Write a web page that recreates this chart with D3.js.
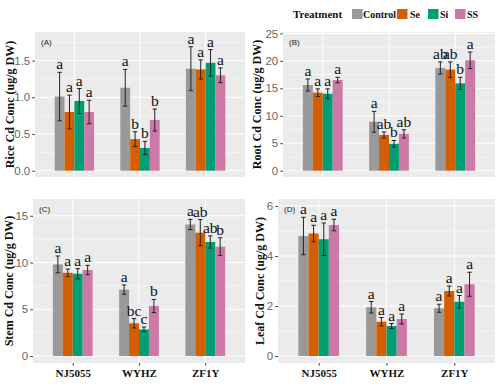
<!DOCTYPE html>
<html><head><meta charset="utf-8">
<script src="https://cdn.jsdelivr.net/npm/d3@7"></script>
<style>body{margin:0;background:#fff}svg{display:block}</style>
</head><body>
<svg id="chart" width="500" height="390"></svg>
<script>
// ---------------- DATA ----------------
const categories = ["NJ5055", "WYHZ", "ZF1Y"];
const treatments = ["Control", "Se", "Si", "SS"];
const colors = ["#999999", "#D55E00", "#009E73", "#CC79A7"];

// values ordered: category, then treatment (Control, Se, Si, SS)
const riceMean = [1.01, 0.80, 0.95, 0.80,  1.13, 0.43, 0.31, 0.69,  1.39, 1.38, 1.47, 1.30];
const riceErr  = [0.33, 0.23, 0.17, 0.16,  0.25, 0.10, 0.09, 0.15,  0.30, 0.13, 0.18, 0.10];
const riceLetters = ["a","a","a","a", "a","b","b","b", "a","a","a","a"];

const rootMean = [15.6, 14.2, 14.0, 16.5,  8.9, 6.5, 4.9, 6.7,  18.7, 18.4, 15.9, 20.1];
const rootErr  = [1.1, 0.7, 0.9, 0.5,  1.9, 0.55, 0.6, 0.75,  1.1, 1.4, 1.1, 1.5];
const rootLetters = ["a","a","a","a", "a","ab","b","ab", "ab","ab","b","a"];

const stemMean = [9.8, 8.9, 8.8, 9.2,  7.1, 3.5, 2.85, 5.35,  14.07, 13.2, 12.2, 11.7];
const stemErr  = [0.9, 0.4, 0.55, 0.5,  0.5, 0.5, 0.25, 0.7,  0.55, 1.4, 0.65, 0.95];
const stemLetters = ["a","a","a","a", "a","bc","c","b", "a","ab","ab","b"];

const leafMean = [4.8, 4.9, 4.67, 5.24,  1.95, 1.37, 1.2, 1.48,  1.91, 2.6, 2.17, 2.87];
const leafErr  = [0.75, 0.33, 0.65, 0.23,  0.23, 0.17, 0.1, 0.2,  0.16, 0.2, 0.25, 0.48];
const leafLetters = ["a","a","a","a", "a","a","a","a", "a","a","a","a"];

const riceTicks = [0, 0.5, 1.0, 1.5];
const rootTicks = [0, 5, 10, 15, 20, 25];
const stemTicks = [0, 5, 10, 15];
const leafTicks = [0, 2, 4, 6];

// ---------------- LAYOUT ----------------
const panels = [
  {tag:"(A)", title:"Rice Cd Conc (ug/g DW)", mean:riceMean, err:riceErr, letters:riceLetters, ticks:riceTicks, fmt:d3.format(".1f"),
   l:35, r:245, t:32, b:177, dom:[-0.086, 1.89], tx:10, xlab:false},
  {tag:"(B)", title:"Root Cd Conc (ug/g DW)", mean:rootMean, err:rootErr, letters:rootLetters, ticks:rootTicks, fmt:d3.format("d"),
   l:283, r:495, t:32, b:177, dom:[-1.15, 25.25], tx:257, xlab:false},
  {tag:"(C)", title:"Stem Cd Conc (ug/g DW)", mean:stemMean, err:stemErr, letters:stemLetters, ticks:stemTicks, fmt:d3.format("d"),
   l:33, r:245, t:199, b:363, dom:[-0.75, 16.8], tx:9, xlab:true},
  {tag:"(D)", title:"Leaf Cd Conc (ug/g DW)", mean:leafMean, err:leafErr, letters:leafLetters, ticks:leafTicks, fmt:d3.format("d"),
   l:278, r:495, t:199, b:363, dom:[-0.28, 6.28], tx:260, xlab:true}
];

const svg = d3.select("#chart");
const serif = "'Liberation Serif','Times New Roman',serif";
const sans = "'Liberation Sans',Arial,sans-serif";

panels.forEach(p => {
  const g = svg.append("g");
  const y = d3.scaleLinear().domain(p.dom).range([p.b, p.t]);
  const x = d3.scalePoint().domain(categories).range([p.l, p.r]).padding(0.6);
  const step = x.step();
  const xt = d3.scaleBand().domain(treatments).range([-0.3*step, 0.3*step]).padding(0);

  g.append("rect").attr("x", p.l).attr("y", p.t).attr("width", p.r - p.l).attr("height", p.b - p.t).attr("fill", "#EBEBEB");

  const minors = [];
  for (let i = 0; i < p.ticks.length - 1; i++) minors.push((p.ticks[i] + p.ticks[i+1]) / 2);
  const dt = p.ticks[1] - p.ticks[0];
  const extra = p.ticks[p.ticks.length-1] + dt/2;
  if (extra < p.dom[1]) minors.push(extra);
  g.selectAll(".minor").data(minors).join("line")
    .attr("x1", p.l).attr("x2", p.r).attr("y1", d => y(d)).attr("y2", d => y(d))
    .attr("stroke", "#fff").attr("stroke-width", 0.5);
  g.selectAll(".major").data(p.ticks).join("line")
    .attr("x1", p.l).attr("x2", p.r).attr("y1", d => y(d)).attr("y2", d => y(d))
    .attr("stroke", "#fff").attr("stroke-width", 1);
  g.selectAll(".vmajor").data(categories).join("line")
    .attr("x1", d => x(d)).attr("x2", d => x(d)).attr("y1", p.t).attr("y2", p.b)
    .attr("stroke", "#fff").attr("stroke-width", 1);

  const rows = [];
  categories.forEach((c, ci) => treatments.forEach((tr, ti) => {
    const k = ci * treatments.length + ti;
    rows.push({c, tr, ti, m: p.mean[k], e: p.err[k], lab: p.letters[k]});
  }));
  g.selectAll(".bar").data(rows).join("rect")
    .attr("x", d => x(d.c) + xt(d.tr))
    .attr("width", xt.bandwidth())
    .attr("y", d => y(d.m))
    .attr("height", d => y(0) - y(d.m))
    .attr("fill", d => colors[d.ti]);

  const cap = 2.2;
  const eb = g.selectAll(".eb").data(rows).join("g")
    .attr("transform", d => `translate(${x(d.c) + xt(d.tr) + xt.bandwidth()/2},0)`);
  eb.append("line").attr("x1", 0).attr("x2", 0)
    .attr("y1", d => y(d.m + d.e)).attr("y2", d => y(d.m - d.e))
    .attr("stroke", "#222").attr("stroke-width", 1);
  eb.append("line").attr("x1", -cap).attr("x2", cap)
    .attr("y1", d => y(d.m + d.e)).attr("y2", d => y(d.m + d.e))
    .attr("stroke", "#222").attr("stroke-width", 1);
  eb.append("line").attr("x1", -cap).attr("x2", cap)
    .attr("y1", d => y(d.m - d.e)).attr("y2", d => y(d.m - d.e))
    .attr("stroke", "#222").attr("stroke-width", 1);

  g.selectAll(".let").data(rows).join("text")
    .attr("x", d => x(d.c) + xt(d.tr) + xt.bandwidth()/2)
    .attr("y", d => y(d.m + d.e) - 3)
    .attr("text-anchor", "middle")
    .attr("font-family", serif).attr("font-size", 15.5).attr("fill", "#111")
    .text(d => d.lab);

  g.append("text").attr("x", p.l + 6).attr("y", p.t + 13)
    .attr("font-family", sans).attr("font-size", 8).attr("fill", "#222").text(p.tag);

  const ya = g.append("g").attr("transform", `translate(${p.l},0)`)
    .call(d3.axisLeft(y).tickValues(p.ticks).tickFormat(p.fmt).tickSize(2.75).tickPadding(2));
  ya.select(".domain").remove();
  ya.selectAll(".tick line").attr("stroke", "#444");
  ya.selectAll(".tick text").attr("font-family", sans).attr("font-size", 11.5).attr("fill", "#666");

  if (p.xlab) {
    const xa = g.append("g").attr("transform", `translate(0,${p.b})`)
      .call(d3.axisBottom(x).tickSize(2.75).tickPadding(3));
    xa.select(".domain").remove();
    xa.selectAll(".tick line").attr("stroke", "#444");
    xa.selectAll(".tick text").attr("font-family", serif).attr("font-weight", "bold")
      .attr("font-size", 11).attr("fill", "#111");
  }

  g.append("text")
    .attr("transform", `translate(${p.tx + 4},${(p.t + p.b)/2}) rotate(-90)`)
    .attr("text-anchor", "middle")
    .attr("font-family", serif).attr("font-weight", "bold").attr("font-size", 12).attr("fill", "#111")
    .text(p.title);
});

const leg = svg.append("g");
leg.append("text").attr("x", 293).attr("y", 18).attr("font-family", serif).attr("font-weight", "bold")
  .attr("font-size", 11).attr("fill", "#111").text("Treatment");
const keyX = [352, 397, 428, 455];
const labX = [363, 410, 440, 467];
treatments.forEach((tr, i) => {
  leg.append("rect").attr("x", keyX[i]).attr("y", 9).attr("width", 10.5).attr("height", 10).attr("fill", colors[i]);
  leg.append("text").attr("x", labX[i]).attr("y", 18).attr("font-family", serif).attr("font-weight", "bold")
    .attr("font-size", 10).attr("fill", "#111").text(tr);
});
</script>
</body></html>
